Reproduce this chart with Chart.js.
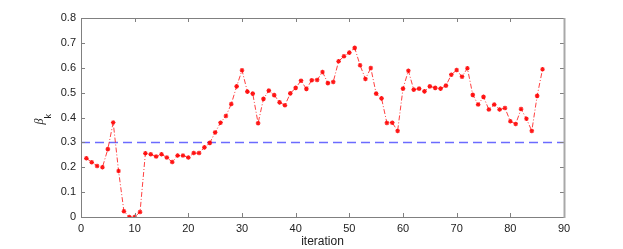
<!DOCTYPE html>
<html>
<head>
<meta charset="utf-8">
<script src="https://cdn.jsdelivr.net/npm/chart.js@4/dist/chart.umd.min.js"></script>
<style>
html, body { margin: 0; background: #fff; }
#wrap { width: 623px; height: 249px; }
</style>
</head>
<body>
<div id="wrap"><canvas id="betaChart" width="623" height="249"></canvas></div>
<script>
// values
const iterations = [1,2,3,4,5,6,7,8,9,10,11,12,13,14,15,16,17,18,19,20,
  21,22,23,24,25,26,27,28,29,30,31,32,33,34,35,36,37,38,39,40,
  41,42,43,44,45,46,47,48,49,50,51,52,53,54,55,56,57,58,59,60,
  61,62,63,64,65,66,67,68,69,70,71,72,73,74,75,76,77,78,79,80,
  81,82,83,84,85,86];
const beta = [0.236,0.220,0.205,0.200,0.273,0.380,0.185,0.023,0.000,0.000,
  0.020,0.256,0.252,0.243,0.252,0.239,0.221,0.247,0.247,0.239,
  0.257,0.257,0.280,0.298,0.340,0.379,0.406,0.454,0.525,0.590,
  0.504,0.496,0.377,0.475,0.508,0.490,0.461,0.449,0.497,0.519,
  0.548,0.515,0.550,0.551,0.583,0.538,0.543,0.626,0.646,0.661,
  0.680,0.610,0.555,0.599,0.496,0.477,0.378,0.379,0.346,0.516,
  0.588,0.512,0.516,0.505,0.525,0.519,0.516,0.528,0.572,0.591,
  0.564,0.598,0.491,0.452,0.483,0.432,0.452,0.432,0.438,0.385,
  0.374,0.434,0.395,0.346,0.487,0.594];
const thresholdX = [0, 90];
const thresholdY = [0.3, 0.3];
const xTicks = [0, 10, 20, 30, 40, 50, 60, 70, 80, 90];
const yTicks = [0, 0.1, 0.2, 0.3, 0.4, 0.5, 0.6, 0.7, 0.8];

const font = { family: "'Liberation Sans', Arial, sans-serif", size: 11 };

// matlab-like box with inward ticks, plus the axis labels
const boxPlugin = {
    id: "box",
    afterDraw(chart) {
        const ctx = chart.ctx;
        const a = chart.chartArea;
        const xs = chart.scales.x, ys = chart.scales.y;
        ctx.save();
        ctx.strokeStyle = "#808080";
        ctx.lineWidth = 1;
        ctx.beginPath();
        ctx.moveTo(a.left + 0.5, a.top + 0.5);
        ctx.lineTo(a.right, a.top + 0.5);
        ctx.moveTo(a.left + 0.5, a.top);
        ctx.lineTo(a.left + 0.5, a.bottom + 0.5);
        ctx.lineTo(a.right, a.bottom + 0.5);
        xTicks.forEach(v => {
            const px = Math.round(xs.getPixelForValue(v)) + 0.5;
            ctx.moveTo(px, a.bottom); ctx.lineTo(px, a.bottom - 4);
            ctx.moveTo(px, a.top); ctx.lineTo(px, a.top + 4);
        });
        yTicks.forEach(v => {
            const py = Math.round(ys.getPixelForValue(v)) + 0.5;
            ctx.moveTo(a.left, py); ctx.lineTo(a.left + 4, py);
            ctx.moveTo(a.right, py); ctx.lineTo(a.right - 4, py);
        });
        ctx.stroke();
        ctx.strokeStyle = "#a8a8a8";
        ctx.lineWidth = 2;
        ctx.beginPath();
        ctx.moveTo(a.right + 0.5, a.top);
        ctx.lineTo(a.right + 0.5, a.bottom + 1);
        ctx.stroke();

        ctx.fillStyle = "#222";
        ctx.font = "12px 'Liberation Sans', Arial, sans-serif";
        ctx.textAlign = "center";
        ctx.textBaseline = "middle";
        ctx.fillText("iteration", (a.left + a.right) / 2, 242);

        ctx.translate(43, (a.top + a.bottom) / 2 + 7);
        ctx.rotate(-Math.PI / 2);
        ctx.textAlign = "left";
        ctx.textBaseline = "alphabetic";
        ctx.font = "italic 12px 'Liberation Serif', serif";
        ctx.fillText("\u03b2", 0, 0);
        const w = ctx.measureText("\u03b2").width;
        ctx.font = "9px 'Liberation Sans', Arial, sans-serif";
        ctx.fillText("k", w, 8);
        ctx.restore();
    }
};

new Chart(document.getElementById("betaChart").getContext("2d"), {
    type: "line",
    data: {
        datasets: [
            {
                label: "beta",
                data: iterations.map((x, i) => ({ x, y: beta[i] })),
                borderColor: "rgba(255, 30, 30, 0.85)",
                backgroundColor: "rgba(255, 0, 0, 0.9)",
                borderWidth: 1,
                borderDash: [5, 2, 1, 2],
                pointStyle: "star",
                pointRadius: 2.3,
                pointBorderWidth: 1.2,
                pointBorderColor: "rgba(255, 0, 0, 0.9)",
                tension: 0
            },
            {
                label: "threshold",
                data: thresholdX.map((x, i) => ({ x, y: thresholdY[i] })),
                borderColor: "rgba(70, 70, 255, 0.8)",
                borderWidth: 1.5,
                borderDash: [9, 5],
                pointRadius: 0
            }
        ]
    },
    plugins: [boxPlugin],
    options: {
        responsive: false,
        animation: false,
        layout: { padding: { left: 0, right: 59, top: 18, bottom: 0 } },
        plugins: { legend: { display: false }, tooltip: { enabled: false } },
        scales: {
            x: {
                type: "linear", min: 0, max: 90,
                afterFit: s => { s.height = 32; },
                afterBuildTicks: s => { s.ticks = xTicks.map(v => ({ value: v })); },
                grid: { display: false, drawTicks: false },
                border: { display: false },
                ticks: { color: "#222", font, padding: 5, maxRotation: 0 }
            },
            y: {
                min: 0, max: 0.8,
                afterFit: s => { s.width = 81; },
                afterBuildTicks: s => { s.ticks = yTicks.map(v => ({ value: v })); },
                grid: { display: false, drawTicks: false },
                border: { display: false },
                ticks: { color: "#222", font, padding: 5 }
            }
        }
    }
});
</script>
</body>
</html>
